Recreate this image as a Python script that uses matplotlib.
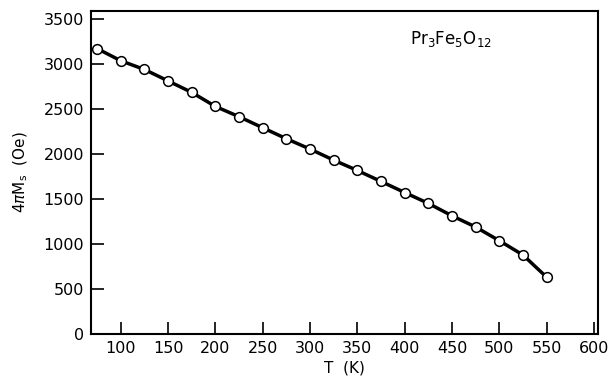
import matplotlib
matplotlib.use("Agg")
import matplotlib.pyplot as plt
import numpy as np

plt.rcParams["font.family"] = "DejaVu Sans"

# temperature (K) and magnetisation 4*pi*Ms (Oe)
T = [75, 100, 125, 150, 175, 200, 225, 250, 275, 300, 325, 350, 375,
     400, 425, 450, 475, 500, 525, 550]
M = [3174, 3038, 2941, 2814, 2686, 2530, 2416, 2293, 2171, 2056, 1933, 1818, 1696,
     1573, 1452, 1314, 1189, 1037, 878, 631]

x_ticks = [100, 150, 200, 250, 300, 350, 400, 450, 500, 550, 600]
y_ticks = [0, 500, 1000, 1500, 2000, 2500, 3000, 3500]

fig = plt.figure(figsize=(6.15, 3.83), dpi=100)
ax = fig.add_axes([0.148, 0.128, 0.824, 0.843])

ax.plot(T, M, color='black', linewidth=2.5, zorder=2)
ax.plot(T, M, 'o', markersize=7, markerfacecolor='white',
        markeredgecolor='black', markeredgewidth=1.1, zorder=3)

ax.set_xlim(68.6, 604)
ax.set_ylim(0, 3590)
ax.set_xticks(x_ticks)
ax.set_yticks(y_ticks)
ax.tick_params(direction='in', length=9, width=1.2, labelsize=11.5,
               top=False, right=False, pad=5)
for s in ax.spines.values():
    s.set_linewidth(1.5)

ax.set_xlabel('T  (K)', fontsize=11, labelpad=3)
ax.set_ylabel(r'4$\pi$M$_\mathrm{s}$  (Oe)', fontsize=11, labelpad=10)

ax.text(406, 3220, r'Pr$_\mathrm{3}$Fe$_\mathrm{5}$O$_\mathrm{12}$', fontsize=12)

plt.savefig('out.png', dpi=100)
